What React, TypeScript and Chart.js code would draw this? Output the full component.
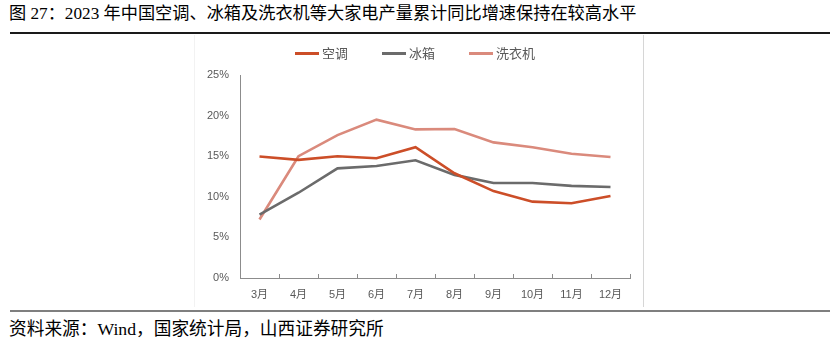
import React, { useEffect, useRef } from "react";
import { Chart, registerables } from "chart.js";

Chart.register(...registerables);

const TITLE = "图 27：2023 年中国空调、冰箱及洗衣机等大家电产量累计同比增速保持在较高水平";
const SOURCE = "资料来源：Wind，国家统计局，山西证券研究所";

const categories = ["3月", "4月", "5月", "6月", "7月", "8月", "9月", "10月", "11月", "12月"];
const seriesNames = ["空调", "冰箱", "洗衣机"];
const seriesColors = ["#CC4E28", "#6B6B6B", "#DA8A7C"];
const airConditioner = [14.96, 14.55, 15.0, 14.75, 16.1, 12.9, 10.7, 9.4, 9.2, 10.1];
const refrigerator = [7.8, 10.5, 13.5, 13.8, 14.5, 12.7, 11.7, 11.7, 11.35, 11.2];
const washingMachine = [7.2, 15.0, 17.6, 19.5, 18.3, 18.35, 16.7, 16.1, 15.3, 14.9];
const seriesValues = [airConditioner, refrigerator, washingMachine];
const yTicks = [0, 5, 10, 15, 20, 25];

const AXIS_COLOR = "#8C8C8C";
const TEXT_COLOR = "#595959";
const TICK_FONT = '"Liberation Sans", "Noto Sans CJK SC", sans-serif';

const innerTicks = {
  id: "innerTicks",
  afterDatasetsDraw(chart: any) {
    const x = chart.scales.x;
    const n = categories.length;
    const p0 = x.getPixelForValue(0);
    const p1 = x.getPixelForValue(1);
    const step = p1 - p0;
    const bottom = chart.chartArea.bottom;
    const ctx = chart.ctx;
    ctx.save();
    ctx.strokeStyle = AXIS_COLOR;
    ctx.lineWidth = 1;
    for (let i = 1; i <= n; i++) {
      const px = Math.round(p0 - step / 2 + i * step) + 0.5;
      ctx.beginPath();
      ctx.moveTo(px, bottom);
      ctx.lineTo(px, bottom - 4);
      ctx.stroke();
    }
    ctx.restore();
  },
};

function LineChart() {
  const ref = useRef<HTMLCanvasElement | null>(null);
  useEffect(() => {
    if (!ref.current) return;
    const chart = new Chart(ref.current, {
      type: "line",
      data: {
        labels: categories,
        datasets: seriesNames.map((name, i) => ({
          label: name,
          data: seriesValues[i],
          borderColor: seriesColors[i],
          backgroundColor: seriesColors[i],
          borderWidth: 2.6,
          pointRadius: 0,
          tension: 0,
        })),
      },
      options: {
        animation: false,
        responsive: false,
        maintainAspectRatio: false,
        layout: { padding: { top: 39, right: 13, bottom: 0, left: 0 } },
        plugins: { legend: { display: false }, tooltip: { enabled: false } },
        scales: {
          x: {
            offset: true,
            grid: { display: false, drawTicks: false },
            border: { display: true, color: AXIS_COLOR, width: 1 },
            ticks: { color: TEXT_COLOR, font: { family: TICK_FONT, size: 11 }, padding: 10, maxRotation: 0, autoSkip: false },
            afterFit: (s: any) => { s.height = 30; },
          },
          y: {
            min: 0,
            max: 25,
            grid: { display: false, drawTicks: false },
            border: { display: true, color: AXIS_COLOR, width: 1 },
            afterBuildTicks: (s: any) => { s.ticks = yTicks.map((v) => ({ value: v })); },
            ticks: {
              color: TEXT_COLOR,
              font: { family: TICK_FONT, size: 11 },
              padding: 11,
              callback: (v: any) => v + "%",
            },
            afterFit: (s: any) => { s.width = 46; },
          },
        },
      },
      plugins: [innerTicks],
    });
    return () => chart.destroy();
  }, []);
  return <canvas ref={ref} width={449} height={272} style={{ position: "absolute", left: 194, top: 36, width: 449, height: 272 }} />;
}

export default function App() {
  const textFont = '"Liberation Serif", "Noto Sans CJK SC", serif';
  return (
    <div style={{ position: "absolute", left: 0, top: 0, width: 837, height: 346, background: "#fff", overflow: "hidden" }}>
      <div style={{ position: "absolute", left: 9, top: 4, fontFamily: textFont, fontSize: 17.2, lineHeight: "20px", color: "#000", whiteSpace: "nowrap" }}>{TITLE}</div>
      <div style={{ position: "absolute", left: 10, top: 32, width: 820, height: 2, background: "#1a1a1a" }} />
      <div style={{ position: "absolute", left: 194, top: 35, width: 1, height: 272, background: "#F2F2F2" }} />
      <div style={{ position: "absolute", left: 643, top: 35, width: 1, height: 272, background: "#D6D6D6" }} />
      <LineChart />
      <div style={{ position: "absolute", left: 295, top: 44, display: "flex", gap: 34, alignItems: "center", height: 18 }}>
        {seriesNames.map((name, i) => (
          <div key={name} style={{ display: "flex", alignItems: "center" }}>
            <span style={{ display: "inline-block", width: 24, height: 3, background: seriesColors[i], marginRight: 3 }} />
            <span style={{ fontFamily: '"Noto Sans CJK SC", sans-serif', fontSize: 13, lineHeight: "18px", color: TEXT_COLOR }}>{name}</span>
          </div>
        ))}
      </div>
      <div style={{ position: "absolute", left: 10, top: 310, width: 820, height: 2, background: "#7F7F7F" }} />
      <div style={{ position: "absolute", left: 9, top: 319, fontFamily: textFont, fontSize: 17.7, lineHeight: "20px", color: "#000", whiteSpace: "nowrap" }}>{SOURCE}</div>
    </div>
  );
}
